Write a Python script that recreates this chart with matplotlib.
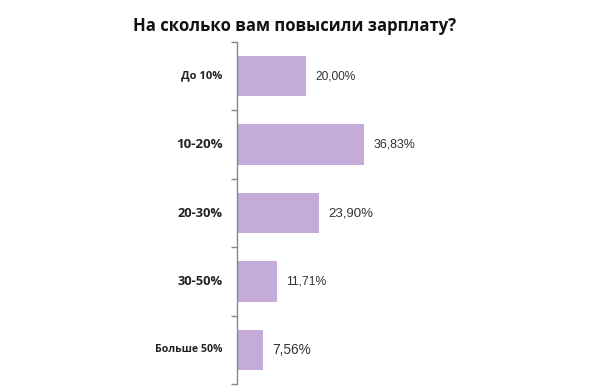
import matplotlib.pyplot as plt
import numpy as np

# Данные опроса
categories = ["До 10%", "10-20%", "20-30%", "30-50%", "Больше 50%"]
values = [20.00, 36.83, 23.90, 11.71, 7.56]
value_labels = ["20,00%", "36,83%", "23,90%", "11,71%", "7,56%"]

# размеры подписей примерно как на картинке
label_sizes = [8, 9.6, 9.3, 9.3, 7.6]
value_sizes = [8.6, 8.9, 9.5, 8.8, 9.8]

fig = plt.figure(figsize=(5.9, 3.86), dpi=100)
ax = fig.add_axes([0.4017, 0.005, 0.585, 0.886])

y = np.arange(len(categories))
ax.barh(y, values, height=0.59, color="#C5ABDA")
ax.set_ylim(len(categories) - 0.5, -0.5)
ax.set_xlim(0, 100)

for i, (v, lab) in enumerate(zip(values, value_labels)):
    ax.text(v + 2.6, i, lab, va="center", ha="left", fontsize=value_sizes[i],
            family="Liberation Sans", color="#333333")

ax.set_yticks(y)
ax.set_yticklabels([])
for i, c in enumerate(categories):
    ax.text(-4.1, i, c, va="center", ha="right", fontsize=label_sizes[i],
            fontweight="bold", family="Open Sans", color="#222222")

ax.set_yticks(np.arange(-0.5, len(categories)), minor=True)
ax.tick_params(axis="y", which="major", length=0)
ax.tick_params(axis="y", which="minor", length=4, color="#888888", width=1)
ax.set_xticks([])

for s in ["top", "right", "bottom"]:
    ax.spines[s].set_visible(False)
ax.spines["left"].set_color("#888888")
ax.spines["left"].set_linewidth(1)

fig.text(0.499, 0.933, "На сколько вам повысили зарплату?", ha="center", va="center",
         fontsize=12, fontweight="bold", family="Open Sans", color="#111111")

fig.savefig("out.png", dpi=100)
